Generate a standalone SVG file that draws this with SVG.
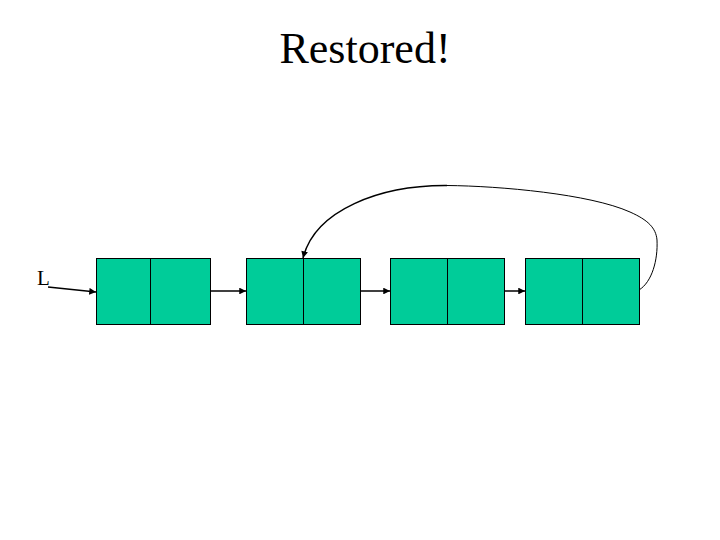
<svg xmlns="http://www.w3.org/2000/svg" width="720" height="540" viewBox="0 0 720 540">
<style>
.cell{fill:#00cc99;stroke:#000;stroke-width:1}
.ln{fill:none;stroke:#000;stroke-width:1.5}
.txt{font-family:"Liberation Serif",serif;fill:#000}
</style>
<defs>
<marker id="ah" viewBox="0 0 10 10" refX="10" refY="5" markerWidth="5" markerHeight="4.5" orient="auto" markerUnits="strokeWidth">
<path d="M0,0 L10,5 L0,10 z" fill="#000"/>
</marker>
</defs>
<rect width="720" height="540" fill="#fff"/>
<text class="txt" x="365" y="63" font-size="44" text-anchor="middle">Restored!</text>
<text class="txt" x="37" y="285" font-size="21">L</text>
<g id="node1"><rect class="cell" x="96.5" y="258.5" width="54" height="66"/><rect class="cell" x="150.5" y="258.5" width="60" height="66"/></g>
<g id="node2"><rect class="cell" x="246.5" y="258.5" width="57" height="66"/><rect class="cell" x="303.5" y="258.5" width="57" height="66"/></g>
<g id="node3"><rect class="cell" x="390.5" y="258.5" width="57" height="66"/><rect class="cell" x="447.5" y="258.5" width="57" height="66"/></g>
<g id="node4"><rect class="cell" x="525.5" y="258.5" width="57" height="66"/><rect class="cell" x="582.5" y="258.5" width="57" height="66"/></g>
<g id="connectors">
<path class="ln" d="M48,287 L96,292" marker-end="url(#ah)"/>
<path class="ln" d="M210,291 L246,291" marker-end="url(#ah)"/>
<path class="ln" d="M360,291 L390,291" marker-end="url(#ah)"/>
<path class="ln" d="M504,291 L525,291" marker-end="url(#ah)"/>
<path fill="none" stroke="#000" stroke-width="1" d="M639,290 C652,282 658,260 657,240 C656,228 648,220 630,212 C590,194 500,186 447,185.5"/>
<path class="ln" stroke-width="2" d="M447,185.5 C380,185 315,210 303,258" marker-end="url(#ah)"/>
</g>
</svg>
